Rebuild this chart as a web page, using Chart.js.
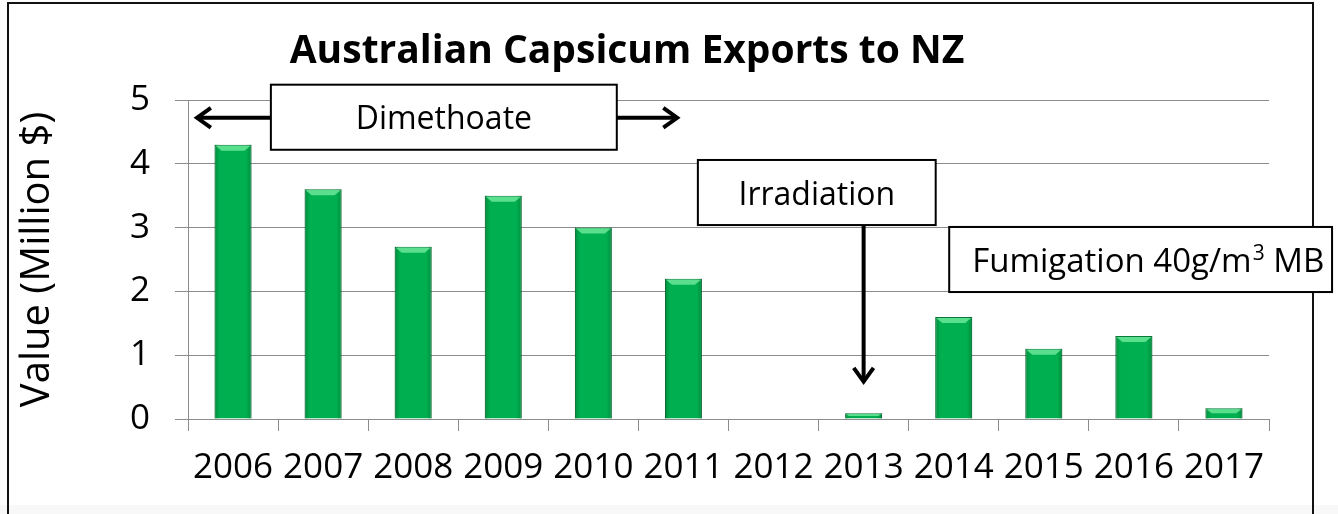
<!DOCTYPE html>
<html><head><meta charset="utf-8">
<script src="https://cdn.jsdelivr.net/npm/chart.js@4/dist/chart.umd.min.js"></script>
<style>html,body{margin:0;padding:0;background:#fff;}#wrap{position:relative;width:1338px;height:514px;}</style>
</head><body><div id="wrap"><canvas id="c" width="1338" height="514"></canvas></div>
<script>
// ---- data ----
const years = ['2006','2007','2008','2009','2010','2011','2012','2013','2014','2015','2016','2017'];
const exportValues = [4.3, 3.6, 2.7, 3.5, 3.0, 2.2, 0, 0.09, 1.6, 1.1, 1.3, 0.17];
const yTickValues = [0, 1, 2, 3, 4, 5];
const chartTitle = 'Australian Capsicum Exports to NZ';
const yAxisTitle = 'Value (Million $)';
const noteLabels = ['Dimethoate', 'Irradiation', 'Fumigation 40g/m\u00B3 MB'];

const FONT = '"Open Sans", Lato, sans-serif';
const GRID = '#8c8c8c';

// annotation placement in data units (x = category index, y = value)
const notes = [
  {text: noteLabels[0], x0: 0.42, x1: 4.26, y0: 5.24, y1: 4.22, size: 32},
  {text: noteLabels[1], x0: 5.16, x1: 7.80, y0: 4.06, y1: 3.04, size: 32},
  {text: noteLabels[2], x0: 7.95, x1: 12.2, y0: 3.01, y1: 1.99, size: 33, align: 'left'}
];

function drawChevronArrow(ctx, x1, y1, x2, y2) {
  const ang = Math.atan2(y2 - y1, x2 - x1);
  ctx.beginPath();
  ctx.moveTo(x1, y1); ctx.lineTo(x2 - Math.cos(ang) * 2, y2 - Math.sin(ang) * 2);
  ctx.stroke();
  const L = 17, W = 0.62;
  ctx.beginPath();
  ctx.moveTo(x2 - L * Math.cos(ang - W), y2 - L * Math.sin(ang - W));
  ctx.lineTo(x2, y2);
  ctx.lineTo(x2 - L * Math.cos(ang + W), y2 - L * Math.sin(ang + W));
  ctx.stroke();
}

const framePlugin = {
  id: 'frame',
  beforeDraw(chart) {
    const ctx = chart.ctx;
    ctx.save();
    ctx.fillStyle = '#ffffff';
    ctx.fillRect(0, 0, chart.width, chart.height);
    ctx.fillStyle = '#f8f8f8';
    ctx.fillRect(0, 505, chart.width, 9);
    ctx.fillStyle = '#ffffff';
    ctx.fillRect(9, 4, 1303, 501);
    ctx.strokeStyle = '#111';
    ctx.lineWidth = 2;
    ctx.beginPath();
    ctx.moveTo(8, 514); ctx.lineTo(8, 3); ctx.lineTo(1313, 3); ctx.lineTo(1313, 514);
    ctx.stroke();
    // title
    ctx.fillStyle = '#000';
    ctx.font = 'bold 39px ' + FONT;
    ctx.textAlign = 'center';
    ctx.textBaseline = 'alphabetic';
    ctx.fillText(chartTitle, 627, 63);
    ctx.restore();
  }
};

const bevelPlugin = {
  id: 'bevel',
  afterDatasetsDraw(chart) {
    const ctx = chart.ctx;
    const meta = chart.getDatasetMeta(0);
    ctx.save();
    meta.data.forEach((bar) => {
      const p = bar.getProps(['x','y','base','width'], true);
      const l = p.x - p.width / 2, r = p.x + p.width / 2, t = p.y, b = p.base;
      const h = b - t;
      if (h <= 0.5) return;
      const g = ctx.createLinearGradient(l, 0, r, 0);
      g.addColorStop(0, 'rgba(0,80,30,0.35)');
      g.addColorStop(0.15, 'rgba(0,80,30,0)');
      g.addColorStop(0.85, 'rgba(0,80,30,0)');
      g.addColorStop(1, 'rgba(0,80,30,0.35)');
      ctx.fillStyle = g;
      ctx.fillRect(l, t, r - l, h);
      const bh = Math.min(6, h / 2);
      ctx.fillStyle = 'rgba(120,240,160,0.75)';
      ctx.beginPath();
      ctx.moveTo(l + 1, t + 1); ctx.lineTo(r - 1, t + 1);
      ctx.lineTo(r - 1 - bh, t + bh); ctx.lineTo(l + 1 + bh, t + bh);
      ctx.closePath(); ctx.fill();
    });
    ctx.restore();
  }
};

const notesPlugin = {
  id: 'notes',
  afterDraw(chart) {
    const ctx = chart.ctx, xs = chart.scales.x, ys = chart.scales.y;
    const px = v => xs.getPixelForValue(v), py = v => ys.getPixelForValue(v);
    ctx.save();
    ctx.strokeStyle = '#000';
    ctx.lineCap = 'butt';
    ctx.lineJoin = 'miter';
    ctx.lineWidth = 4;
    const dy = py(4.72);
    drawChevronArrow(ctx, px(0.42), dy, px(-0.4), dy);
    drawChevronArrow(ctx, px(4.26), dy, px(4.93), dy);
    drawChevronArrow(ctx, px(7), py(3.04), px(7), py(0.585));
    notes.forEach(n => {
      const x0 = px(n.x0), x1 = px(n.x1), y0 = py(n.y0), y1 = py(n.y1);
      ctx.fillStyle = '#fff';
      ctx.fillRect(x0, y0, x1 - x0, y1 - y0);
      ctx.lineWidth = 2;
      ctx.strokeRect(x0, y0, x1 - x0, y1 - y0);
      ctx.fillStyle = '#000';
      ctx.font = n.size + 'px ' + FONT;
      ctx.textBaseline = 'alphabetic';
      const ty = (y0 + y1) / 2 + 12;
      if (n.align === 'left') {
        ctx.textAlign = 'left';
        const main = 'Fumigation 40g/m';
        const tx = x0 + 23;
        ctx.fillText(main, tx, ty);
        const w = ctx.measureText(main).width;
        ctx.font = Math.round(n.size * 0.65) + 'px ' + FONT;
        ctx.fillText('3', tx + w + 1, ty - 12);
        const w2 = ctx.measureText('3').width;
        ctx.font = n.size + 'px ' + FONT;
        ctx.fillText(' MB', tx + w + 1 + w2, ty);
      } else {
        ctx.textAlign = 'center';
        ctx.fillText(n.text, (x0 + x1) / 2, ty);
      }
    });
    ctx.restore();
  }
};

new Chart(document.getElementById('c'), {
  type: 'bar',
  data: {
    labels: years,
    datasets: [{
      label: 'Exports',
      data: exportValues,
      backgroundColor: '#00b050',
      borderColor: '#0a7a3a',
      borderWidth: 1,
      barPercentage: 0.41,
      categoryPercentage: 1.0
    }]
  },
  options: {
    responsive: false,
    animation: false,
    devicePixelRatio: 1,
    layout: {padding: {left: 0, right: 69, top: 100, bottom: 0}},
    plugins: {legend: {display: false}, tooltip: {enabled: false}, title: {display: false}},
    scales: {
      x: {
        offset: true,
        grid: {display: true, drawOnChartArea: false, drawTicks: true, tickLength: 12, color: GRID, offset: true},
        border: {display: true, color: GRID, width: 1},
        ticks: {color: '#000', font: {family: FONT, size: 35}, padding: 16, maxRotation: 0, autoSkip: false},
        afterFit(s) { s.height = 95; }
      },
      y: {
        min: 0, max: 5,
        afterBuildTicks(s) { s.ticks = yTickValues.map(v => ({value: v})); },
        grid: {color: GRID, tickLength: 13, drawTicks: true},
        border: {display: true, color: GRID, width: 1},
        ticks: {color: '#000', font: {family: FONT, size: 35}, padding: 25},
        title: {display: true, text: yAxisTitle, color: '#000', font: {family: FONT, size: 40}, padding: {top: 14, bottom: 0}},
        afterFit(s) { s.width = 188; }
      }
    }
  },
  plugins: [framePlugin, bevelPlugin, notesPlugin]
});
</script>
</body></html>
